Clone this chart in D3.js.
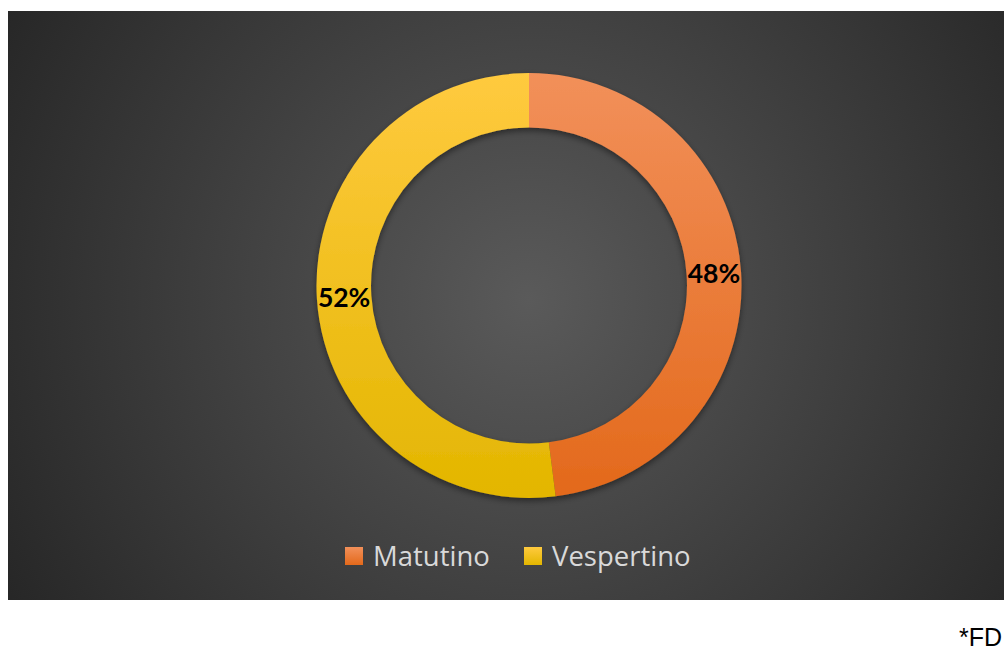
<!DOCTYPE html>
<html>
<head>
<meta charset="utf-8">
<script src="https://cdn.jsdelivr.net/npm/d3@7"></script>
<style>
  html, body { margin: 0; padding: 0; background: #ffffff; overflow: hidden; }
  svg { display: block; }
</style>
</head>
<body>
<svg id="chart" width="1004" height="652"></svg>
<script>
// Shift distribution
const categories = ["Matutino", "Vespertino"];
const values = [48, 52];
const labels = ["48%", "52%"];
const gradientStops = [
  ["#f2905a", "#e3691b"],
  ["#ffca3f", "#e3b600"]
];
const footnote = "*FD";

const svg = d3.select("#chart");
const W = 1004, H = 652;
const defs = svg.append("defs");

// Panel background: dark radial gradient
const bg = defs.append("radialGradient")
  .attr("id", "bgGrad")
  .attr("gradientUnits", "userSpaceOnUse")
  .attr("cx", 529).attr("cy", 300).attr("r", 620);
bg.append("stop").attr("offset", "0%").attr("stop-color", "#5a5a5a");
bg.append("stop").attr("offset", "100%").attr("stop-color", "#252525");

svg.append("rect")
  .attr("x", 8).attr("y", 11)
  .attr("width", W - 8 + 20).attr("height", 589)
  .attr("fill", "url(#bgGrad)");

const cx = 529, cy = 285.5, outerR = 212.5, innerR = 158;

// Vertical gradients for each slice, spanning the ring's height (group-local coords)
gradientStops.forEach((s, i) => {
  const g = defs.append("linearGradient")
    .attr("id", "slice" + i)
    .attr("gradientUnits", "userSpaceOnUse")
    .attr("x1", 0).attr("y1", -outerR)
    .attr("x2", 0).attr("y2", outerR);
  g.append("stop").attr("offset", "0%").attr("stop-color", s[0]);
  g.append("stop").attr("offset", "100%").attr("stop-color", s[1]);

  const lg = defs.append("linearGradient")
    .attr("id", "legend" + i)
    .attr("x1", 0).attr("y1", 0).attr("x2", 0).attr("y2", 1);
  lg.append("stop").attr("offset", "0%").attr("stop-color", s[0]);
  lg.append("stop").attr("offset", "100%").attr("stop-color", s[1]);
});

// Soft shadow under the ring
const f = defs.append("filter").attr("id", "shadow")
  .attr("x", "-20%").attr("y", "-20%").attr("width", "140%").attr("height", "140%");
f.append("feDropShadow")
  .attr("dx", 0).attr("dy", 3).attr("stdDeviation", 3)
  .attr("flood-color", "#000").attr("flood-opacity", 0.45);

const pie = d3.pie().sort(null).value(d => d)(values);
const arc = d3.arc().innerRadius(innerR).outerRadius(outerR);
const midR = (innerR + outerR) / 2;
const labelArc = d3.arc().innerRadius(midR).outerRadius(midR);

const ring = svg.append("g")
  .attr("transform", `translate(${cx},${cy})`)
  .attr("filter", "url(#shadow)");

ring.selectAll("path")
  .data(pie)
  .join("path")
  .attr("d", arc)
  .attr("fill", (d, i) => `url(#slice${i})`);

svg.append("g")
  .attr("transform", `translate(${cx},${cy})`)
  .selectAll("text")
  .data(pie)
  .join("text")
  .attr("transform", d => `translate(${labelArc.centroid(d)})`)
  .attr("text-anchor", "middle")
  .attr("dy", "0.36em")
  .attr("font-family", "Lato, 'Open Sans', sans-serif")
  .attr("font-weight", "bold")
  .attr("font-size", 26.5)
  .attr("fill", "#000")
  .text((d, i) => labels[i]);

// Legend
const legend = svg.append("g");
const legendX = [345, 524];
categories.forEach((c, i) => {
  legend.append("rect")
    .attr("x", legendX[i]).attr("y", 547)
    .attr("width", 18).attr("height", 18)
    .attr("fill", `url(#legend${i})`);
  legend.append("text")
    .attr("x", legendX[i] + 28).attr("y", 566)
    .attr("font-family", "'Open Sans', sans-serif")
    .attr("font-size", 27.5)
    .attr("fill", "#d9d9d9")
    .text(c);
});

// Footnote, right-aligned in the lower corner
svg.append("text")
  .attr("x", 1002).attr("y", 646)
  .attr("text-anchor", "end")
  .attr("font-family", "'Liberation Sans', Arial, sans-serif")
  .attr("font-size", 25)
  .attr("fill", "#000")
  .text(footnote);
</script>
</body>
</html>
